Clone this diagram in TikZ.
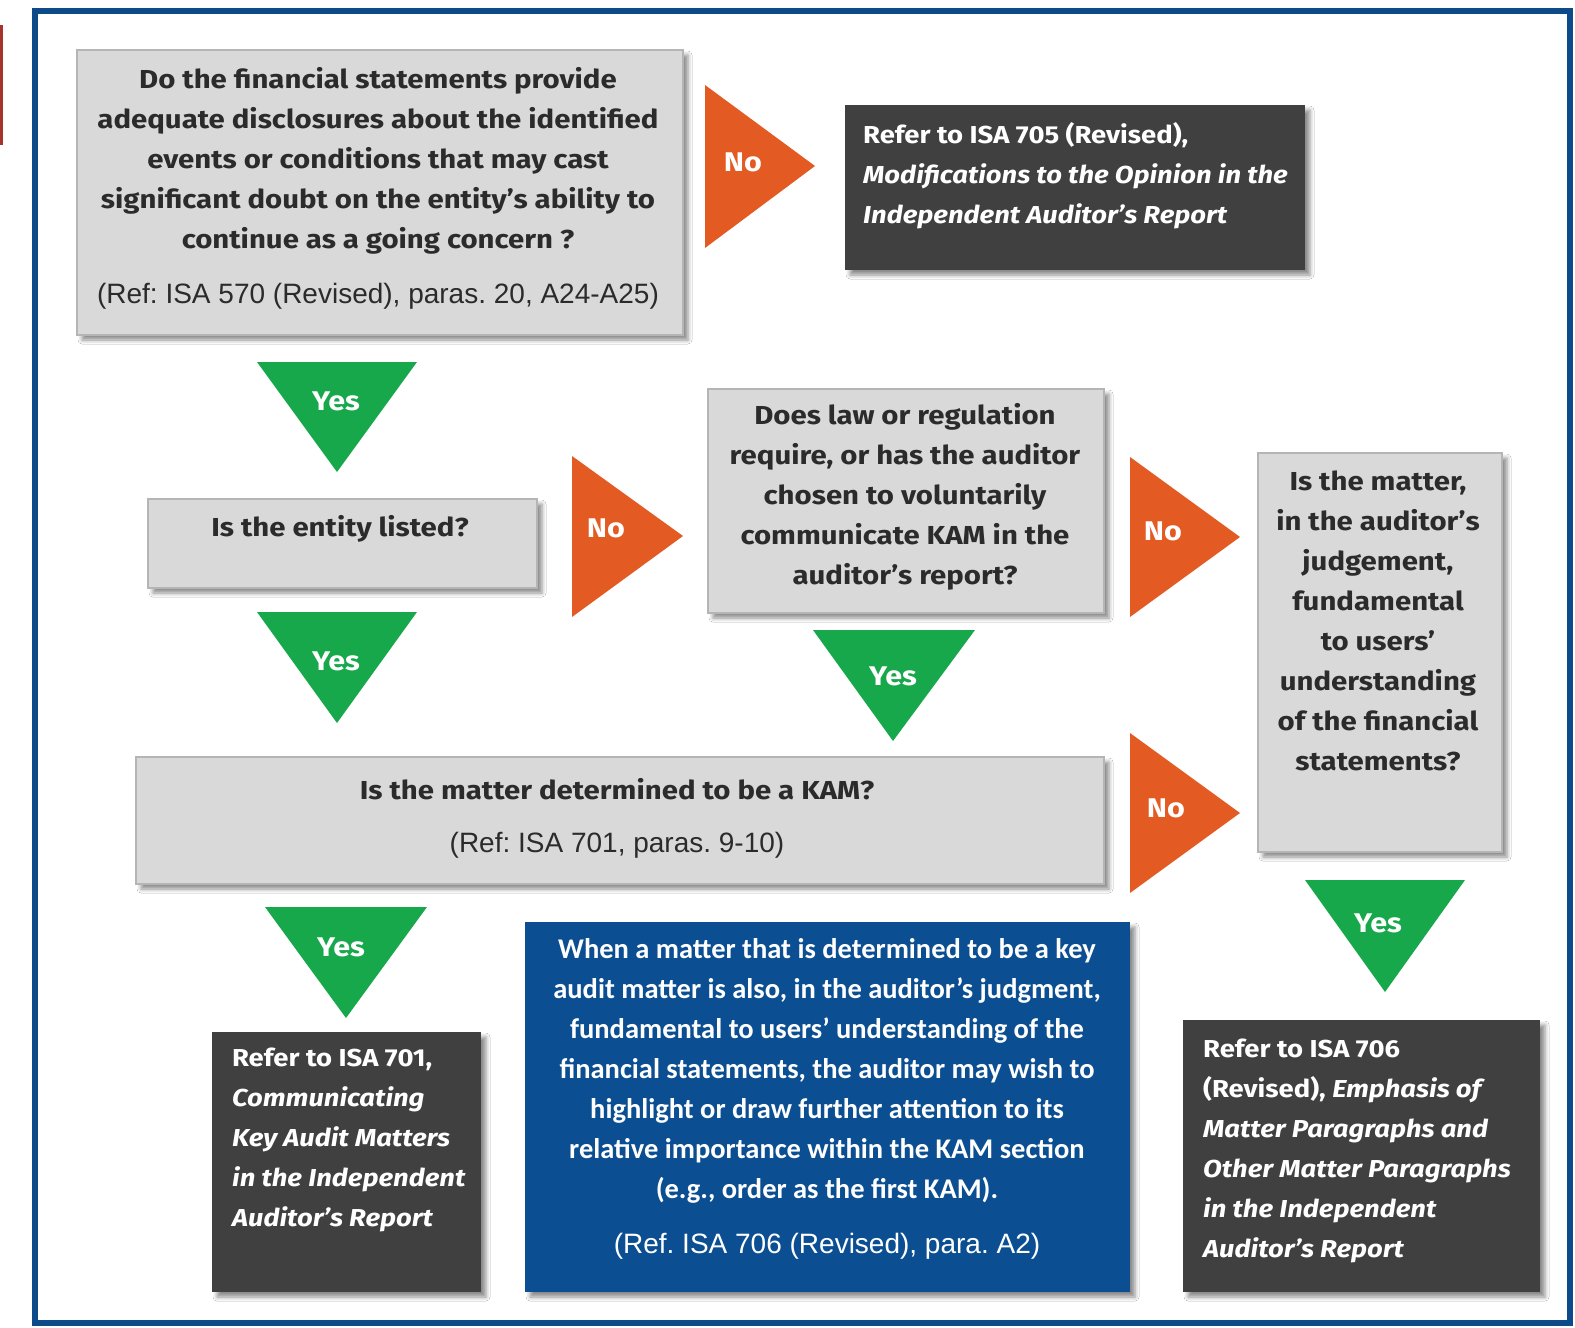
\documentclass[tikz,border=0pt]{standalone}
\usepackage{fontspec}
\setmainfont{Fira Sans}
\newfontfamily\qfont{Fira Sans}[FakeStretch=1.13]
\newfontfamily\dfont{Fira Sans}[FakeStretch=1.12]
\newfontfamily\refsans{Liberation Sans}
\newfontfamily\calib{Carlito}
\usetikzlibrary{shadows.blur}
\frenchspacing

\definecolor{framebl}{HTML}{0C4A8A}
\definecolor{boxgray}{HTML}{D9D9D9}
\definecolor{boxedge}{HTML}{B5B5B5}
\definecolor{darkbox}{HTML}{404040}
\definecolor{kambl}{HTML}{0B4F92}
\definecolor{noor}{HTML}{E35A22}
\definecolor{yesgr}{HTML}{17A84C}
\definecolor{txtgray}{HTML}{2B2B2B}
\definecolor{redbar}{HTML}{A8332B}

\tikzset{
  panel/.style={rectangle, inner sep=0pt,
    blur shadow={shadow xshift=5pt, shadow yshift=-5pt, shadow blur radius=4pt, shadow opacity=45}},
  graybox/.style={panel, fill=boxgray, draw=boxedge, line width=1.5pt},
  darkpanel/.style={panel, fill=darkbox},
  bluepanel/.style={panel, fill=kambl},
  qtext/.style={align=center, text=txtgray, inner sep=0pt,
    font=\qfont\fontsize{26}{40}\selectfont\bfseries},
  dtext/.style={align=left, text=white, inner sep=0pt, anchor=west,
    font=\dfont\fontsize{24.5}{40}\selectfont\bfseries},
  reftext/.style={font=\refsans\fontsize{28}{30}\selectfont},
  nolabel/.style={text=white, inner sep=0pt, font=\qfont\fontsize{27}{30}\selectfont\bfseries},
  yeslabel/.style={nolabel},
}

\begin{document}
\begin{tikzpicture}[x=1pt, y=-1pt]
\useasboundingbox (0,0) rectangle (1575,1328);
\fill[white] (0,0) rectangle (1575,1328);
\fill[redbar] (0,25) rectangle (2.5,145);
\draw[framebl, line width=6pt, fill=white] (35,11) rectangle (1570,1323);

% ---- boxes ----
\node[graybox, minimum width=606, minimum height=285] (q1) at (380,192.5) {};
\node[darkpanel, minimum width=460, minimum height=165] (r705) at (1075,187.5) {};
\node[graybox, minimum width=389, minimum height=89] (q2) at (342.5,543.5) {};
\node[graybox, minimum width=396, minimum height=224] (q3) at (906,501) {};
\node[graybox, minimum width=244, minimum height=399] (q4) at (1380,652.5) {};
\node[graybox, minimum width=968, minimum height=127] (q5) at (620,820.5) {};
\node[darkpanel, minimum width=269, minimum height=260] (r701) at (346.5,1162) {};
\node[bluepanel, minimum width=605, minimum height=370] (note) at (827.5,1107) {};
\node[darkpanel, minimum width=357, minimum height=272] (r706) at (1361.5,1156) {};

% ---- box texts ----
\node[qtext] (q1t) at (378,161) {Do the financial statements provide\\
  adequate disclosures about the identified\\
  events or conditions that may cast\\
  significant doubt on the entity’s ability to\\
  continue as a going concern ?};
\node[reftext, text=txtgray] (q1r) at (378,296) {(Ref: ISA 570 (Revised), paras. 20, A24-A25)};

\node[qtext] (q2t) at (340,529) {Is the entity listed?};

\node[qtext] (q3t) at (905,497) {Does law or regulation\\
  require, or has the auditor\\
  chosen to voluntarily\\
  communicate KAM in the\\
  auditor’s report?};

\node[qtext] (q4t) at (1378,621) {Is the matter,\\
  in the auditor’s\\
  judgement,\\
  fundamental\\
  to users’\\
  understanding\\
  of the financial\\
  statements?};

\node[qtext] (q5t) at (617,789) {Is the matter determined to be a KAM?};
\node[reftext, text=txtgray] (q5r) at (617,845) {(Ref: ISA 701, paras. 9-10)};

\node[dtext] (r705t) at (863,176) {Refer to ISA 705 (Revised),\\
  \itshape Modifications to the Opinion in the\\
  \itshape Independent Auditor’s Report};

\node[dtext] (r701t) at (232,1140) {Refer to ISA 701,\\
  \itshape Communicating\\
  \itshape Key Audit Matters\\
  \itshape in the Independent\\
  \itshape Auditor’s Report};

\node[dtext] (r706t) at (1203,1151) {Refer to ISA 706\\
  (Revised), \itshape Emphasis of\\
  \itshape Matter Paragraphs and\\
  \itshape Other Matter Paragraphs\\
  \itshape in the Independent\\
  \itshape Auditor’s Report};

\node[align=center, text=white, inner sep=0pt, font=\calib\fontsize{28.5}{40}\selectfont\bfseries]
  (notet) at (827,1071) {When a matter that is determined to be a key\\
  audit matter is also, in the auditor’s judgment,\\
  fundamental to users’ understanding of the\\
  financial statements, the auditor may wish to\\
  highlight or draw further attention to its\\
  relative importance within the KAM section\\
  (e.g., order as the first KAM).};
\node[reftext, text=white] (noter) at (827,1246) {(Ref. ISA 706 (Revised), para. A2)};

% ---- decision markers ----
\fill[noor] (705,85) -- (815,166) -- (705,248) -- cycle;
\node[nolabel] (n1) at (743,162) {No};
\fill[noor] (572,456) -- (683,536) -- (572,617) -- cycle;
\node[nolabel] (n2) at (606,528) {No};
\fill[noor] (1130,457) -- (1240,537) -- (1130,617) -- cycle;
\node[nolabel] (n3) at (1163,531) {No};
\fill[noor] (1130,733) -- (1240,813) -- (1130,893) -- cycle;
\node[nolabel] (n4) at (1166,808) {No};

\fill[yesgr] (257,362) -- (417,362) -- (337,472) -- cycle;
\node[yeslabel] (y1) at (336,401) {Yes};
\fill[yesgr] (257,612) -- (417,612) -- (337,723) -- cycle;
\node[yeslabel] (y2) at (336,661) {Yes};
\fill[yesgr] (813,630) -- (975,630) -- (893,741) -- cycle;
\node[yeslabel] (y3) at (893,676) {Yes};
\fill[yesgr] (265,907) -- (427,907) -- (346,1018) -- cycle;
\node[yeslabel] (y4) at (341,947) {Yes};
\fill[yesgr] (1305,880) -- (1465,880) -- (1385,992) -- cycle;
\node[yeslabel] (y5) at (1378,923) {Yes};
\end{tikzpicture}
\end{document}
